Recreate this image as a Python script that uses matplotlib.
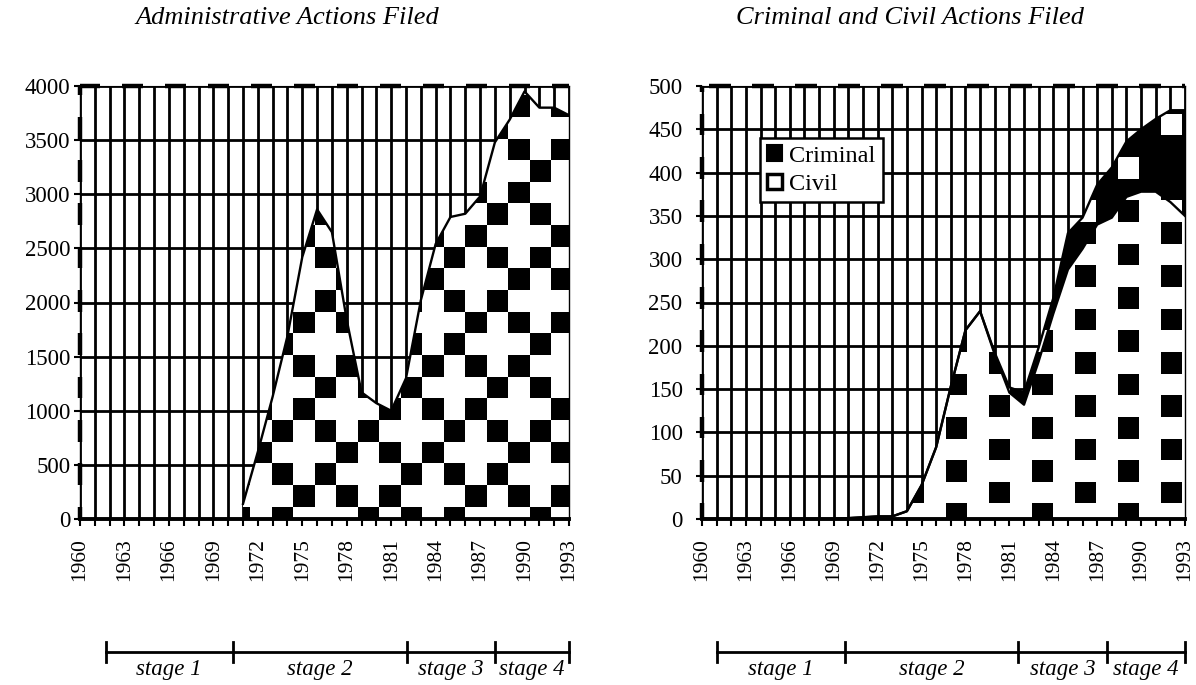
import matplotlib
matplotlib.use('Agg')
import matplotlib.pyplot as plt
import numpy as np
from matplotlib.transforms import blended_transform_factory

plt.rcParams['font.family'] = ['Liberation Serif', 'DejaVu Serif']

# data
years = list(range(1960, 1994))
admin_years = list(range(1971, 1994))
admin = [140, 620, 1130, 1690, 2420, 2860, 2650, 1840, 1170, 1070, 1000, 1300,
         2020, 2540, 2790, 2820, 2980, 3480, 3690, 3950, 3800, 3800, 3730]
civil = [0, 0, 0, 0, 0, 0, 0, 0, 0, 0, 1, 2, 3, 3, 9, 39, 83, 153, 218, 240,
         190, 146, 132, 182, 237, 288, 312, 340, 348, 372, 378, 378, 366, 350]
criminal = [0, 0, 0, 0, 0, 0, 0, 0, 0, 0, 0, 0, 0, 0, 0, 0, 0, 0, 0, 0,
            2, 6, 14, 16, 18, 42, 36, 46, 58, 64, 72, 84, 106, 122]
stage_labels = ['stage 1', 'stage 2', 'stage 3', 'stage 4']
left_stage_edges = [1961.75, 1970.3, 1982.1, 1988.0, 1993.0]
right_stage_edges = [1961.0, 1969.8, 1981.6, 1987.7, 1993.0]

W, H = 1196, 685
fig = plt.figure(figsize=(W / 100, H / 100), dpi=100)


def fig_box(x0, x1, y_top, y_bot):
    return [x0 / W, 1 - y_bot / H, (x1 - x0) / W, (y_bot - y_top) / H]


def pattern(ax, path, x0, dx, y0, dy, ncols, nrows, rule):
    C, K = np.meshgrid(np.arange(ncols), np.arange(-1, nrows))
    img = np.where(rule(C, K), 0.0, 1.0)
    im = ax.imshow(img, cmap='gray', vmin=0, vmax=1, origin='lower',
                   interpolation='nearest', aspect='auto', zorder=2,
                   extent=[x0, x0 + ncols * dx, y0 - dy, y0 + nrows * dy])
    im.set_clip_path(path, ax.transData)


def frame(ax, ymax, x0, dx, y0, dy, top_parity, left_parity):
    # checker-ish dashed top and left borders
    for c in range(30):
        if c % 2 != top_parity:
            continue
        a, b = np.clip([x0 + c * dx, x0 + (c + 1) * dx], 1960, 1993)
        if b > a:
            ax.plot([a, b], [ymax, ymax], color='black', lw=3.2,
                    solid_capstyle='butt', clip_on=False, zorder=5)
    for k in range(-1, 25):
        if k % 2 != left_parity:
            continue
        a, b = np.clip([y0 + k * dy, y0 + (k + 1) * dy], 0, ymax)
        if b > a:
            ax.plot([1960, 1960], [a, b], color='black', lw=3.2,
                    solid_capstyle='butt', clip_on=False, zorder=5)
    ax.plot([1960, 1960], [0, ymax], color='black', lw=1.0, clip_on=False, zorder=5)
    ax.plot([1960, 1993], [ymax, ymax], color='black', lw=0.8, clip_on=False, zorder=5)
    ax.plot([1993, 1993], [0, ymax], color='black', lw=1.0, clip_on=False, zorder=5)


def style(ax, ymax, ystep, ypad):
    ax.set_xlim(1960, 1993)
    ax.set_ylim(0, ymax)
    ax.set_xticks(years)
    ax.set_xticklabels([str(y) if (y - 1960) % 3 == 0 else '' for y in years],
                       rotation=90, fontsize=15.5)
    ax.set_yticks(np.arange(0, ymax + 1, ystep))
    ax.tick_params(axis='x', direction='out', length=5, width=1.5, pad=9)
    ax.tick_params(axis='y', direction='out', length=4, width=1.5, pad=ypad, labelsize=16.5)
    ax.grid(True, color='black', lw=2.0)
    ax.set_axisbelow(True)
    for s in ['top', 'left', 'right']:
        ax.spines[s].set_visible(False)
    ax.spines['bottom'].set_linewidth(2.8)
    ax.spines['bottom'].set_zorder(6)


def stages(ax, edges):
    tr = blended_transform_factory(ax.transData, fig.transFigure)
    yb = 1 - 652 / H
    ax.plot([edges[0], edges[-1]], [yb, yb], color='black', lw=2.0,
            transform=tr, clip_on=False)
    for e in edges:
        ax.plot([e, e], [yb - 10 / H, yb + 10 / H], color='black', lw=2.0,
                transform=tr, clip_on=False)
    for i, lab in enumerate(stage_labels):
        ax.text((edges[i] + edges[i + 1]) / 2, 1 - 670 / H, lab, transform=tr,
                ha='center', va='center', fontsize=16.5, style='italic')


# left: administrative actions
axl = fig.add_axes(fig_box(80, 569, 86, 519))
poly = axl.fill_between(admin_years, 0, admin, facecolor='none', edgecolor='none')
lx0, ldx, ly0, ldy = 1959.9, 1.451, 115, 200
pattern(axl, poly.get_paths()[0], lx0, ldx, ly0, ldy, 25, 21,
        lambda C, K: ((C + K) % 2 == 0) & ((C + 3 * K) % 8 != 0))
axl.plot(admin_years, admin, color='black', lw=1.7, zorder=4)
style(axl, 4000, 500, 3)
frame(axl, 4000, lx0, ldx, ly0, ldy, 0, 1)
stages(axl, left_stage_edges)

# right: criminal and civil actions
axr = fig.add_axes(fig_box(702, 1185, 86, 519))
total = [a + b for a, b in zip(civil, criminal)]
rx0, rdx, ry0, rdy = 1959.04, 1.469, 18, 25
pc = axr.fill_between(years, 0, civil, facecolor='none', edgecolor='none')
pattern(axr, pc.get_paths()[0], rx0, rdx, ry0, rdy, 24, 20,
        lambda C, K: (C % 2 == 0) & ((C // 2 + K) % 2 == 1))
pk = axr.fill_between(years, civil, total, facecolor='none', edgecolor='none')
pattern(axr, pk.get_paths()[0], rx0, rdx, ry0, rdy, 24, 20,
        lambda C, K: ~((C % 2 == 0) & ((C - K) % 4 == 1)))
axr.plot(years, civil, color='black', lw=1.7, zorder=4)
axr.plot(years, total, color='black', lw=1.7, zorder=4)
style(axr, 500, 50, 10)
frame(axr, 500, rx0, rdx, ry0, rdy, 1, 1)
stages(axr, right_stage_edges)

h1 = plt.Rectangle((0, 0), 1, 1, facecolor='black', edgecolor='black', lw=1.5)
h2 = plt.Rectangle((0, 0), 1, 1, facecolor='white', edgecolor='black', lw=2.5)
leg = axr.legend([h1, h2], ['Criminal', 'Civil'], loc='upper left',
                 bbox_to_anchor=(0.12, 0.88), fontsize=17.5, fancybox=False,
                 framealpha=1, edgecolor='black', handlelength=0.6,
                 handleheight=0.6, handletextpad=0.3, borderpad=0.3,
                 labelspacing=0.3, borderaxespad=0)
leg.get_frame().set_linewidth(1.8)
leg.set_zorder(10)

fig.text(287 / W, 1 - 18 / H, 'Administrative Actions Filed', ha='center',
         va='center', fontsize=19, style='italic')
fig.text(910 / W, 1 - 18 / H, 'Criminal and Civil Actions Filed', ha='center',
         va='center', fontsize=19, style='italic')

fig.savefig('out.png', dpi=100)
